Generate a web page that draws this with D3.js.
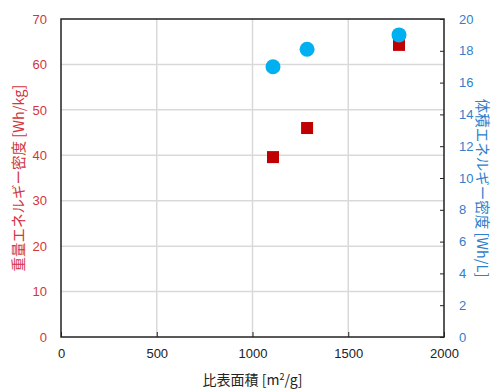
<!DOCTYPE html>
<html><head><meta charset="utf-8">
<script src="https://cdn.jsdelivr.net/npm/d3@7"></script>
<style>body{margin:0;background:#fff}svg{display:block}</style>
</head><body>
<svg id="c" width="493" height="391"></svg>
<script>
const surfaceArea = [1107, 1285, 1765];
const gravEnergy = [39.6, 46.0, 64.3];
const volEnergy = [17.0, 18.1, 19.0];
const xTicks = [0, 500, 1000, 1500, 2000];
const yLeftTicks = [0, 10, 20, 30, 40, 50, 60, 70];
const yRightTicks = [0, 2, 4, 6, 8, 10, 12, 14, 16, 18, 20];

const svg = d3.select("#c");
const L = 61, R = 444, T = 19, B = 337;
const x = d3.scaleLinear().domain([0, 2000]).range([L, R]);
const yL = d3.scaleLinear().domain([0, 70]).range([B, T]);
const yR = d3.scaleLinear().domain([0, 20]).range([B, T]);
const font = "'Liberation Sans', Arial, sans-serif";
const cjk = "'Noto Sans CJK JP', 'Liberation Sans', sans-serif";
const red = "#c00000", redText = "#d3353c", blueText = "#2f80cc", blue = "#00b0f0";

// gridlines
svg.append("g").selectAll("line").data(yLeftTicks.slice(1, -1)).join("line")
  .attr("x1", L).attr("x2", R).attr("y1", d => yL(d)).attr("y2", d => yL(d))
  .attr("stroke", "#d9d9d9").attr("stroke-width", 1.5);
svg.append("g").selectAll("line").data(xTicks.slice(1, -1)).join("line")
  .attr("y1", T).attr("y2", B).attr("x1", d => x(d)).attr("x2", d => x(d))
  .attr("stroke", "#d9d9d9").attr("stroke-width", 1.5);

// axes
const gx = svg.append("g").attr("transform", `translate(0,${B})`)
  .call(d3.axisBottom(x).tickValues(xTicks).tickFormat(d3.format("d"))
    .tickSizeInner(-5).tickSizeOuter(0).tickPadding(12));
gx.select(".domain").remove();
gx.selectAll("line").attr("stroke", "#222");
gx.selectAll("text").attr("font-family", font).attr("font-size", 13).attr("fill", "#222");

const gl = svg.append("g").attr("transform", `translate(${L},0)`)
  .call(d3.axisLeft(yL).tickValues(yLeftTicks).tickSize(0).tickPadding(14));
gl.select(".domain").remove();
gl.selectAll("text").attr("font-family", font).attr("font-size", 13).attr("fill", redText);

const gr = svg.append("g").attr("transform", `translate(${R},0)`)
  .call(d3.axisRight(yR).tickValues(yRightTicks).tickSizeInner(-4).tickSizeOuter(0).tickPadding(15));
gr.select(".domain").remove();
gr.selectAll("line").attr("stroke", "#222");
gr.selectAll("text").attr("font-family", font).attr("font-size", 13).attr("fill", blueText);

// frame
svg.append("rect").attr("x", L).attr("y", T).attr("width", R - L).attr("height", B - T)
  .attr("fill", "none").attr("stroke", "#222").attr("stroke-width", 1.5);

// points
const pts = surfaceArea.map((s, i) => ({s, g: gravEnergy[i], v: volEnergy[i]}));
svg.append("g").selectAll("rect").data(pts).join("rect")
  .attr("x", d => x(d.s) - 6).attr("y", d => yL(d.g) - 6)
  .attr("width", 12).attr("height", 12).attr("fill", red);
svg.append("g").selectAll("circle").data(pts).join("circle")
  .attr("cx", d => x(d.s)).attr("cy", d => yR(d.v)).attr("r", 7.5).attr("fill", blue);

// titles
svg.append("text").attr("x", (L + R) / 2).attr("y", 385).attr("text-anchor", "middle")
  .attr("font-family", cjk).attr("font-size", 14).attr("fill", "#222")
  .html('比表面積 [m<tspan dy="-5" font-size="9">2</tspan><tspan dy="5">/g]</tspan>');
svg.append("text").attr("transform", `translate(24,${(T + B) / 2}) rotate(-90)`)
  .attr("text-anchor", "middle").attr("font-family", cjk).attr("font-size", 14.5)
  .attr("fill", redText).text("重量エネルギー密度 [Wh/kg]");
svg.append("text").attr("transform", `translate(477,188) rotate(90)`)
  .attr("text-anchor", "middle").attr("font-family", cjk).attr("font-size", 14.5)
  .attr("fill", blueText).text("体積エネルギー密度 [Wh/L]");
</script>
</body></html>
